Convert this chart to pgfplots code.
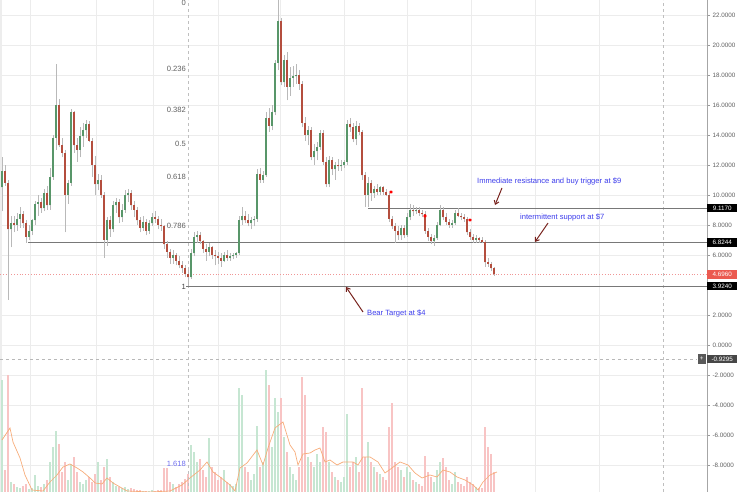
\documentclass[border=0pt]{standalone}
\usepackage{pgfplots}
\pgfplotsset{compat=1.18}
\usepackage{pgfplotstable}
\usepackage{fontspec}
\setmainfont{Liberation Sans}
\usetikzlibrary{arrows.meta}
\definecolor{cgreen}{RGB}{88,150,105}
\definecolor{cgreenD}{RGB}{45,95,60}
\definecolor{cred}{RGB}{180,78,62}
\definecolor{credD}{RGB}{110,40,30}
\definecolor{wick}{RGB}{185,185,185}
\definecolor{vgreen}{RGB}{198,230,210}
\definecolor{vred}{RGB}{248,196,196}
\definecolor{maorange}{RGB}{247,172,122}
\definecolor{gridc}{RGB}{236,236,236}
\definecolor{txtgray}{RGB}{95,95,95}
\definecolor{annoblue}{RGB}{60,60,235}
\definecolor{arrowc}{RGB}{120,35,30}
\definecolor{lvl}{RGB}{120,120,120}
\definecolor{curred}{RGB}{240,150,150}
\definecolor{boxred}{RGB}{235,90,80}

\pgfplotstableread{
x o h l c v
2 10.5 12.5 8.9 11.6 112
5 11.6 12.0 10.6 10.8 22
8 10.8 11.0 3.0 7.7 117
11 7.7 8.6 6.5 8.1 10
14 8.1 8.6 7.5 8.0 8
17 8.0 8.8 7.6 8.4 5
20 8.4 9.2 7.8 8.7 4
23 8.7 8.9 7.8 8.1 6
26 8.1 8.3 6.8 7.2 8
29 7.2 8.0 7.0 7.6 3
32 7.6 8.4 7.3 8.3 4
35 8.3 9.6 8.0 9.4 17
38 9.4 10.0 8.6 9.5 6
41 9.5 9.8 8.8 9.1 5
44 9.1 10.4 8.9 10.1 8
47 10.1 10.6 9.0 9.3 12
50 9.3 11.8 9.0 11.2 30
53 11.2 14.0 11.0 13.8 45
56 13.8 18.7 13.0 16.0 61
59 16.0 16.4 13.2 13.3 48
62 13.3 13.8 12.5 12.8 20
65 12.8 13.0 7.5 10.0 30
68 10.0 11.0 9.4 10.8 12
71 10.8 15.7 10.6 15.5 28
74 15.5 15.6 12.8 13.3 35
77 13.3 13.8 12.2 13.0 20
80 13.0 14.5 12.5 13.9 10
83 13.9 14.8 13.2 14.3 8
86 14.3 15.0 13.8 14.7 12
89 14.7 14.9 13.5 13.6 15
92 13.6 13.8 11.2 12.0 10
95 12.0 12.6 10.0 10.7 18
98 10.7 11.4 10.3 11.0 30
101 11.0 11.3 9.8 10.0 12
104 10.0 10.2 5.8 7.0 25
107 7.0 8.5 6.6 8.3 33
110 8.3 8.6 7.2 7.7 15
113 7.7 9.6 7.5 9.3 10
116 9.3 9.8 8.8 9.5 6
119 9.5 9.7 8.1 8.5 5
122 8.5 9.4 8.2 9.0 4
125 9.0 10.3 8.8 10.0 5
128 10.0 10.4 9.5 10.1 3
131 10.1 10.3 9.0 9.3 4
134 9.3 9.6 8.5 9.0 3
137 9.0 9.2 8.0 8.3 2
140 8.3 8.5 7.5 7.8 2
143 7.8 8.6 7.6 8.2 1
146 8.2 8.4 7.3 7.6 1
149 7.6 8.3 7.4 8.1 1
152 8.1 8.8 7.9 8.5 2
155 8.5 8.9 8.1 8.4 1
158 8.4 8.6 7.7 8.0 2
161 8.0 8.4 7.6 7.9 2
164 7.9 8.0 6.4 6.7 24
167 6.7 6.9 5.8 6.2 24
170 6.2 6.4 5.4 5.8 10
173 5.8 6.3 5.4 6.0 8
176 6.0 6.1 5.3 5.6 5
179 5.6 5.9 5.1 5.3 8
182 5.3 5.6 4.8 5.1 10
185 5.1 5.3 4.5 4.7 13
188 4.7 5.0 3.9 4.5 18
191 4.5 6.4 4.4 6.1 47
194 6.1 7.5 5.9 7.2 40
197 7.2 7.6 6.8 7.3 30
200 7.3 7.5 6.7 6.9 33
203 6.9 7.0 6.1 6.4 22
206 6.4 6.7 5.6 6.2 15
209 6.2 6.8 5.9 6.5 54
212 6.5 6.6 5.7 6.0 25
215 6.0 6.3 5.3 5.9 20
218 5.9 6.2 5.4 5.8 12
221 5.8 6.1 5.2 5.6 15
224 5.6 6.2 5.5 6.0 22
227 6.0 6.3 5.6 5.8 10
230 5.8 6.1 5.6 5.9 8
233 5.9 6.1 5.7 6.0 6
236 6.0 6.2 5.8 6.1 8
239 6.1 8.6 6.0 8.3 104
242 8.3 9.2 8.0 8.6 97
245 8.6 8.9 8.1 8.3 25
248 8.3 8.7 7.9 8.1 20
251 8.1 8.5 7.7 8.3 12
254 8.3 8.6 7.9 8.4 18
257 8.4 11.7 8.2 11.4 66
260 11.4 11.8 10.8 11.0 25
263 11.0 11.6 10.8 11.3 30
266 11.3 15.5 11.2 15.1 122
269 15.1 15.8 14.2 14.6 107
272 14.6 16.0 14.3 15.5 45
275 15.5 19.0 15.3 18.8 94
278 18.8 23.5 18.3 21.6 80
281 21.6 21.8 17.3 17.5 94
284 17.5 19.3 17.2 19.0 55
287 19.0 19.5 16.3 17.2 40
290 17.2 18.5 16.6 17.8 25
293 17.8 18.6 17.2 17.9 18
296 17.9 18.7 17.4 18.0 12
299 18.0 18.3 17.0 17.4 25
302 17.4 17.6 14.5 14.8 115
305 14.8 15.2 13.6 14.0 97
308 14.0 14.6 13.3 14.3 35
311 14.3 14.5 12.3 12.5 30
314 12.5 13.4 12.0 12.9 25
317 12.9 13.5 12.3 13.2 38
320 13.2 14.3 13.0 14.1 30
323 14.1 14.3 12.0 12.2 65
326 12.2 12.5 10.5 10.7 60
329 10.7 12.6 10.5 12.3 30
332 12.3 12.5 11.3 11.7 20
335 11.7 12.2 11.0 12.0 15
338 12.0 12.4 11.6 11.9 12
341 11.9 12.3 11.6 12.0 10
344 12.0 12.3 11.8 12.2 15
347 12.2 15.0 12.0 14.7 78
350 14.7 15.1 14.2 14.5 25
353 14.5 14.8 13.5 13.7 30
356 13.7 14.9 13.3 14.6 35
359 14.6 14.8 14.0 14.2 20
362 14.2 14.3 11.0 11.3 104
365 11.3 11.5 9.2 10.0 35
368 10.0 11.2 9.2 10.8 50
371 10.8 11.0 9.6 10.1 30
374 10.1 10.6 9.8 10.4 25
377 10.4 10.7 10.0 10.2 20
380 10.2 10.6 10.0 10.5 18
383 10.5 10.6 10.0 10.2 15
386 10.2 10.4 9.9 10.0 12
389 10.0 10.1 8.2 8.4 65
392 8.4 8.6 7.7 7.9 89
395 7.9 8.1 6.8 7.6 30
398 7.6 7.9 7.0 7.3 25
401 7.3 8.0 7.0 7.8 22
404 7.8 8.0 7.1 7.3 15
407 7.3 8.8 7.2 8.5 25
410 8.5 9.4 8.3 9.0 20
413 9.0 9.3 8.6 8.9 12
416 8.9 9.2 8.7 9.0 10
419 9.0 9.2 8.6 8.8 8
422 8.8 9.0 8.5 8.7 6
425 8.7 8.9 7.4 7.6 36
428 7.6 7.8 6.9 7.2 20
431 7.2 7.4 6.7 6.9 15
434 6.9 7.3 6.6 7.1 10
437 7.1 8.2 7.0 8.0 22
440 8.0 9.3 7.9 9.0 30
443 9.0 9.2 8.3 8.5 34
446 8.5 8.8 8.0 8.2 25
449 8.2 8.4 7.8 8.0 12
452 8.0 8.3 7.8 8.1 8
455 8.1 9.0 8.0 8.8 20
458 8.8 9.1 8.5 8.6 10
461 8.6 8.8 8.3 8.5 8
464 8.5 8.7 8.2 8.4 6
467 8.4 8.5 7.3 7.5 15
470 7.5 7.7 7.0 7.2 10
473 7.2 7.4 6.8 7.0 8
476 7.0 7.3 6.8 7.1 5
479 7.1 7.2 6.8 7.0 4
482 7.0 7.2 6.8 6.85 4
485 6.85 7.0 5.2 5.5 65
488 5.5 5.8 5.2 5.4 45
491 5.4 5.5 4.9 5.1 38
494 5.1 5.2 4.6 4.7 20
}\candles

\pgfplotstableread{
x h
2 52
10 64
13 50
20 34
25 17
32 2
43 1
50 10
57 17
63 25
70 28
77 24
83 20
90 14
95 9
102 8
107 14
113 9
127 1
150 0
170 1
182 7
190 14
200 22
207 30
213 20
220 15
230 7
235 1
240 24
247 29
257 42
263 27
268 44
275 64
283 70
290 47
295 40
298 27
303 38
310 39
315 42
320 44
325 30
330 32
337 27
343 30
353 30
358 27
363 35
370 35
378 30
385 19
392 24
400 30
408 27
415 19
422 14
430 17
437 15
443 22
450 20
457 15
465 12
473 7
478 2
483 10
490 17
497 20
}\ma

\begin{document}
\begin{tikzpicture}
\begin{axis}[
  at={(0,0)}, anchor=south west,
  width=707pt, height=492pt, scale only axis,
  xmin=0, xmax=707, ymin=-9.8, ymax=23,
  clip mode=individual,
  axis x line*=bottom, axis y line*=right,
  x axis line style={draw=none},
  y axis line style={draw=black!35},
  xtick={30,96,153,218,280,344,407,471,535,599},
  xticklabels={},
  x tick style={draw=none},
  ytick={-8,-6,-4,-2,0,2,6,8,10,12,14,16,18,20,22},
  grid=major, grid style={draw=gridc, line width=0.6pt},
  tick align=outside, major tick length=3pt,
  y tick style={draw=black!40},
  /pgf/number format/assume math mode=true,
  yticklabel={\pgfmathprintnumber[fixed,fixed zerofill,precision=4]{\tick}},
  yticklabel style={font=\fontsize{6.3}{7}\selectfont, text=txtgray, xshift=-1pt},
]
% left strip
\addplot[draw=none, fill=black!7, forget plot] coordinates {(0,-9.8) (2,-9.8) (2,23) (0,23)} -- cycle;

% volume bars
\addplot[draw=none, mark=none, forget plot,
  error bars/.cd, y dir=plus, y explicit, error mark=none,
  error bar style={draw=vgreen, line width=2.2pt, line cap=butt}]
  table[x=x, y expr=-9.8, y error plus expr={(\thisrow{c}>=\thisrow{o})*\thisrow{v}/15}] {\candles};
\addplot[draw=none, mark=none, forget plot,
  error bars/.cd, y dir=plus, y explicit, error mark=none,
  error bar style={draw=vred, line width=2.2pt, line cap=butt}]
  table[x=x, y expr=-9.8, y error plus expr={(\thisrow{c}<\thisrow{o})*\thisrow{v}/15}] {\candles};
% volume MA
\addplot[maorange, line width=0.7pt, mark=none] table[x=x, y expr=-9.8+\thisrow{h}/15] {\ma};

% crosshair
\addplot[black!28, dashed, line width=0.5pt, mark=none] coordinates {(0,-0.9295) (697,-0.9295)};
\addplot[black!25, dashed, line width=0.5pt, mark=none] coordinates {(188,-9.8) (188,23)};
\addplot[black!25, dashed, line width=0.5pt, mark=none] coordinates {(663,-9.8) (663,23)};

% current price line
\addplot[curred, dotted, line width=0.8pt, mark=none] coordinates {(0,4.696) (707,4.696)};

% level lines
\addplot[lvl, line width=0.8pt, mark=none] coordinates {(368,9.117) (707,9.117)};
\addplot[lvl, line width=0.8pt, mark=none] coordinates {(28,6.8244) (707,6.8244)};
\addplot[lvl, line width=0.8pt, mark=none] coordinates {(186,3.924) (707,3.924)};

% wicks
\addplot[draw=none, mark=none, forget plot,
  error bars/.cd, y dir=plus, y explicit, error mark=none,
  error bar style={draw=wick, line width=0.8pt, line cap=butt}]
  table[x=x, y=l, y error plus expr={\thisrow{h}-\thisrow{l}}] {\candles};
% green bodies
\addplot[draw=none, mark=none, forget plot,
  error bars/.cd, y dir=plus, y explicit, error mark=none,
  error bar style={draw=cgreenD, line width=2.4pt, line cap=butt}]
  table[x=x, y=o, y error plus expr={max(\thisrow{c}-\thisrow{o},0)}] {\candles};
\addplot[draw=none, mark=none, forget plot,
  error bars/.cd, y dir=plus, y explicit, error mark=none,
  error bar style={draw=cgreen, line width=1.2pt, line cap=butt}]
  table[x=x, y=o, y error plus expr={max(\thisrow{c}-\thisrow{o},0)}] {\candles};
% red bodies
\addplot[draw=none, mark=none, forget plot,
  error bars/.cd, y dir=plus, y explicit, error mark=none,
  error bar style={draw=credD, line width=2.4pt, line cap=butt}]
  table[x=x, y=c, y error plus expr={max(\thisrow{o}-\thisrow{c},0)}] {\candles};
\addplot[draw=none, mark=none, forget plot,
  error bars/.cd, y dir=plus, y explicit, error mark=none,
  error bar style={draw=cred, line width=1.2pt, line cap=butt}]
  table[x=x, y=c, y error plus expr={max(\thisrow{o}-\thisrow{c},0)}] {\candles};

% sell flags
\addplot[only marks, mark=asterisk, mark size=1.6pt, red, line width=0.8pt] coordinates {(391,10.2) (425,8.6) (470,8.33)};

% fib labels
\begin{scope}[every node/.style={font=\fontsize{7.6}{8}\selectfont, text=txtgray, anchor=east, inner sep=0pt}]
\node[anchor=north east] at (axis cs:186,23) {0};
\node at (axis cs:186,18.4) {0.236};
\node at (axis cs:186,15.65) {0.382};
\node at (axis cs:186,13.42) {0.5};
\node at (axis cs:186,11.2) {0.618};
\node at (axis cs:186,7.95) {0.786};
\node[text=black!75] at (axis cs:186,3.88) {1};
\node[text=annoblue!75] at (axis cs:186,-7.93) {1.618};
\end{scope}

% annotations
\begin{scope}[every node/.style={font=\fontsize{7.6}{8}\selectfont, text=annoblue, anchor=west, inner sep=0pt}]
\node at (axis cs:477,10.93) {Immediate resistance and buy trigger at \$9};
\node at (axis cs:520,8.47) {intermittent support at \$7};
\node at (axis cs:367,2.07) {Bear Target at \$4};
\end{scope}
\draw[arrowc, line width=1pt, -{Straight Barb[length=3.5pt,width=5pt]}] (axis cs:502,10.47) -- (axis cs:495,9.33);
\draw[arrowc, line width=1pt, -{Straight Barb[length=3.5pt,width=5pt]}] (axis cs:548,8.13) -- (axis cs:535,6.87);
\draw[arrowc, line width=1pt, -{Straight Barb[length=3.5pt,width=5pt]}] (axis cs:363,2.2) -- (axis cs:346,3.87);

% right price boxes
\begin{scope}[every node/.style={font=\fontsize{6.3}{7}\selectfont, text=white, anchor=west, inner xsep=1.5pt, inner ysep=2pt, minimum width=30pt}]
\node[fill=black] at (axis cs:707,9.117) {9.1170};
\node[fill=black] at (axis cs:707,6.8244) {6.8244};
\node[fill=boxred] at (axis cs:707,4.696) {4.6960};
\node[fill=black] at (axis cs:707,3.924) {3.9240};
\node[fill=black!72] at (axis cs:707,-0.9295) {-0.9295};
\end{scope}
\node[fill=black!65, text=white, font=\fontsize{6.3}{7}\selectfont, inner sep=1.5pt, anchor=east, minimum width=8pt, minimum height=10pt] at (axis cs:706,-0.9295) {+};
\end{axis}
\pgfresetboundingbox
\useasboundingbox (0,0) rectangle (740pt,492pt);
\end{tikzpicture}
\end{document}
